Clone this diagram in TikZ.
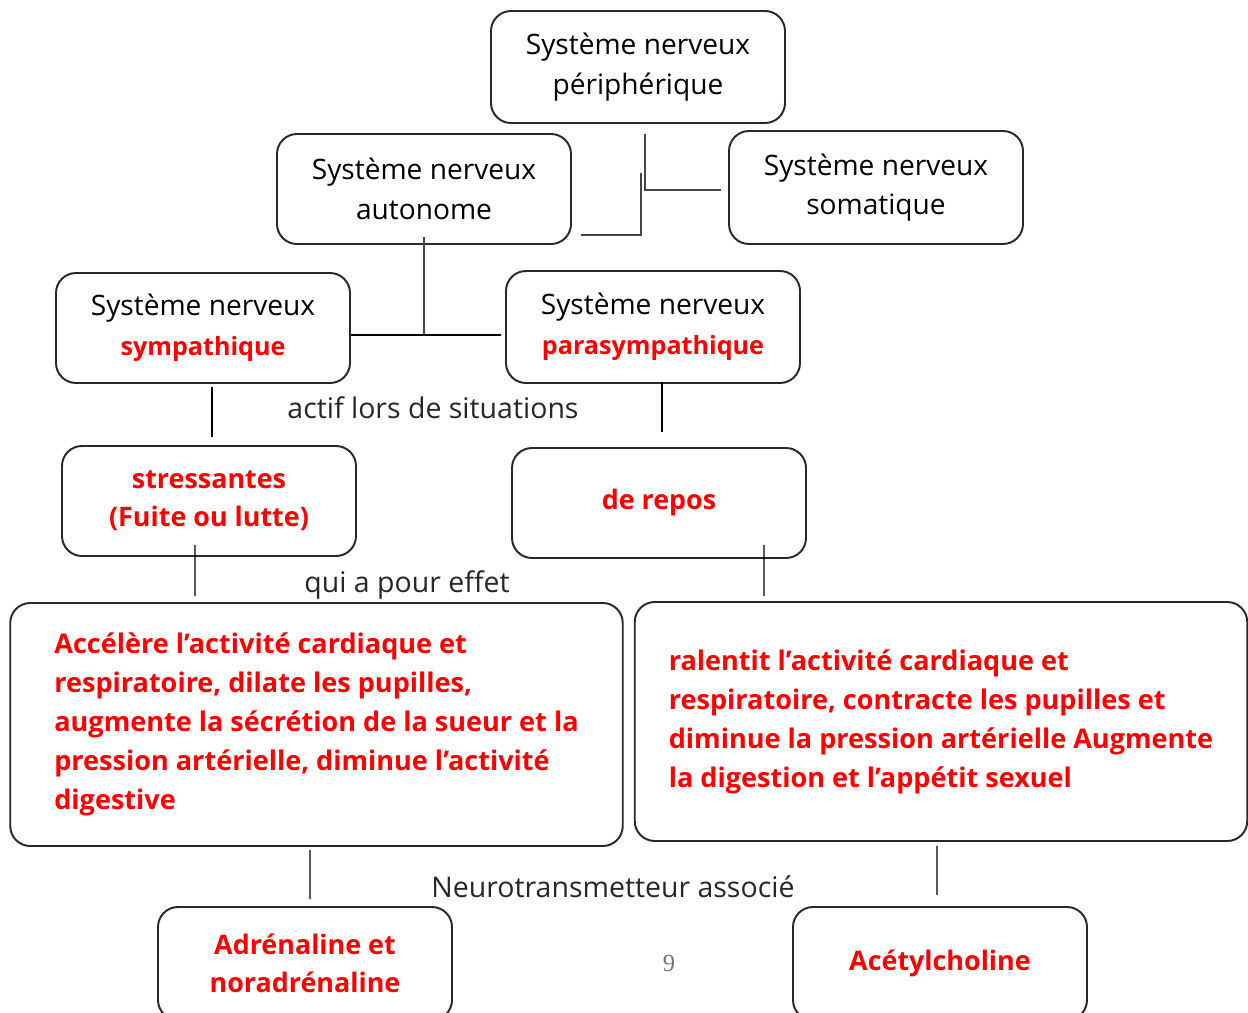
\documentclass[tikz,border=0pt]{standalone}
\usepackage{fontspec}
\setmainfont{Open Sans}
\newfontfamily\pagefont{Liberation Serif}
\usetikzlibrary{positioning, calc}
\definecolor{boxline}{RGB}{40, 40, 40}
\definecolor{keyred}{RGB}{255, 0, 0}
\definecolor{linkgray}{RGB}{70, 70, 70}
\tikzset{
    sysbox/.style={
        draw=boxline,
        line width=1.1pt,
        rounded corners=0.4cm,
        minimum width=5.88cm,
        minimum height=2.2cm,
        align=center,
        font=\fontsize{16}{22.5}\selectfont,
    },
    effbox/.style={
        sysbox,
        minimum width=12.25cm,
        minimum height=4.8cm,
        align=left,
        text=keyred,
        font=\fontsize{15.4}{22.2}\selectfont\bfseries,
    },
    key/.style={
        text=keyred,
        font=\fontsize{15.3}{21.5}\selectfont\bfseries,
    },
    link/.style={
        draw=black,
        line width=0.6pt,
    },
    trunk/.style={
        draw=linkgray,
        line width=1.3pt,
    },
    caption/.style={
        font=\fontsize{16.2}{19}\selectfont,
        text=black!85,
    },
}
\newcommand{\subsys}[1]{{\color{keyred}\fontsize{14.3}{22.5}\selectfont\bfseries #1}}
\begin{document}
\begin{tikzpicture}
\useasboundingbox (0,0) rectangle (24.96,-20.26);

% ===== niveau 1 et 2 =====
\node[sysbox, minimum height=2.24cm] (periph) at (12.76,-1.34) {Système nerveux\\périphérique};
\node[sysbox] (auto) at (8.48,-3.78) {Système nerveux\\autonome};
\node[sysbox, minimum height=2.26cm] (soma) at (17.52,-3.75) {Système nerveux\\somatique};

% ===== sympathique / parasympathique =====
\node[sysbox] (symp) at (4.06,-6.56) {Système nerveux\\\subsys{sympathique}};
\node[sysbox, minimum height=2.24cm] (para) at (13.06,-6.54) {Système nerveux\\\subsys{parasympathique}};

% ===== situations =====
\node[sysbox, key] (stress) at (4.18,-10.02) {stressantes\\(Fuite ou lutte)};
\node[sysbox, key] (repos) at (13.18,-10.06) {de repos};

% ===== effets =====
\node[effbox, minimum height=4.86cm] (effS) at (6.33,-14.49) {Accélère l’activité cardiaque et\\respiratoire, dilate les pupilles,\\augmente la sécrétion de la sueur et la\\pression artérielle, diminue l’activité\\digestive};
\node[effbox, minimum height=4.78cm] (effP) at (18.82,-14.43) {ralentit l’activité cardiaque et\\respiratoire, contracte les pupilles et\\diminue la pression artérielle Augmente\\la digestion et l’appétit sexuel};

% ===== neurotransmetteurs =====
\node[sysbox, key, minimum height=2.26cm] (adren) at (6.10,-19.27) {Adrénaline et\\noradrénaline};
\node[sysbox, key, minimum height=2.26cm] (acet) at (18.80,-19.27) {Acétylcholine};

% ===== textes de liaison =====
\node[caption] (actif) at (8.66,-8.16) {actif lors de situations};
\node[caption] (effet) at (8.14,-11.7) {qui a pour effet};
\node[caption] (neuro) at (12.26,-17.74) {Neurotransmetteur associé};
\node[font=\pagefont\fontsize{14}{17}\selectfont, text=black!55] (page) at (13.38,-19.26) {9};

% ===== liaisons =====
\draw[trunk] ($(periph.south)+(0.14,-0.2)$) |- ($(soma.west)+(-0.14,-0.05)$);
\draw[trunk] ($(auto.east)+(0.18,-0.92)$) -| ($(periph.south)+(0.06,-0.98)$);
\draw[trunk] ($(auto.south)+(0,0.16)$) -- ($(auto.south)+(0,-1.82)$);
\draw[link, line width=1pt] ($(symp.east)+(0,-0.14)$) -- ($(para.west)+(-0.08,-0.16)$);
\draw[link] ($(symp.south)+(0.18,-0.06)$) -- ($(stress.north)+(0.06,0.16)$);
\draw[link] ($(para.south)+(0.18,0.04)$) -- ($(repos.north)+(0.06,0.3)$);
\draw[link] ($(stress.south)+(-0.28,0.24)$) -- ($(effS.north)+(-2.43,0.12)$);
\draw[link] ($(repos.south)+(2.1,0.28)$) -- ($(effP.north)+(-3.54,0.1)$);
\draw[link] ($(effS.south)+(-0.13,-0.06)$) -- ($(adren.north)+(0.1,0.14)$);
\draw[link] ($(effP.south)+(-0.08,-0.08)$) -- ($(acet.north)+(-0.06,0.22)$);

\end{tikzpicture}
\end{document}
